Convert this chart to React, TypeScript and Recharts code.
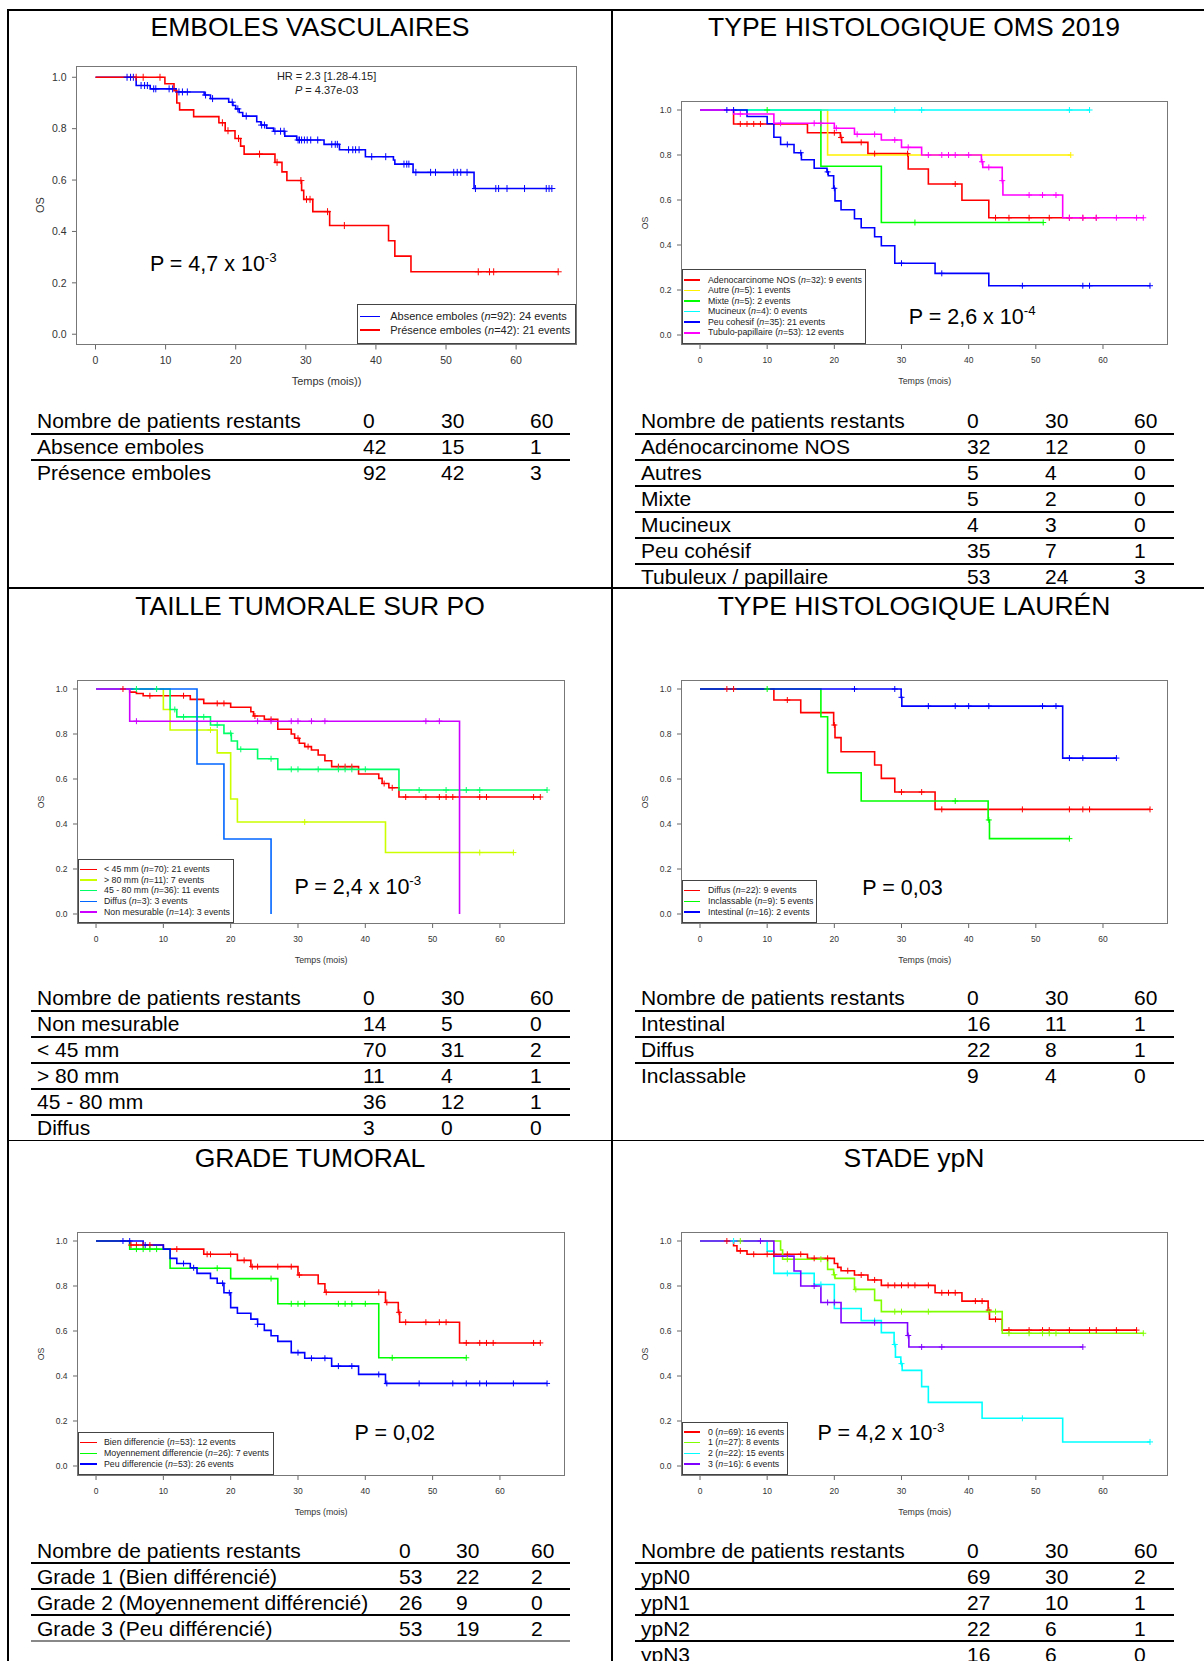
import React from 'react';
import { ComposedChart, Line, XAxis, YAxis } from 'recharts';

type Step = [number, number];
const FONT = '"Liberation Sans", Arial, Helvetica, sans-serif';

// ---------- shared ----------
const xTicks = [0, 10, 20, 30, 40, 50, 60];
const yTicks = [0, 0.2, 0.4, 0.6, 0.8, 1];
const tableHeader = 'Nombre de patients restants';
const tableTimes = ['0', '30', '60'];

// ---------- Panel 1 : EMBOLES VASCULAIRES ----------
const p1Title = 'EMBOLES VASCULAIRES';
const p1Names = ['Absence emboles', 'Présence emboles'];
const p1N = [92, 42];
const p1Events = [24, 21];
const p1Colors = ['#0000FF', '#FF0000'];
const p1AbsenceSteps: Step[] = [[0, 1], [5.8, 0.968], [7.8, 0.955], [11.5, 0.943], [15.5, 0.931], [16.4, 0.917], [19.0, 0.903], [19.6, 0.89], [20.0, 0.877], [20.5, 0.863], [21.0, 0.849], [23.0, 0.827], [23.6, 0.814], [24.4, 0.802], [25.4, 0.79], [27.0, 0.771], [28.7, 0.756], [32.6, 0.739], [34.8, 0.718], [38.5, 0.691], [42.5, 0.678], [42.7, 0.662], [45.3, 0.63], [54.0, 0.567]];
const p1AbsenceCensor = [4.5, 5.0, 5.4, 6.5, 7.0, 7.4, 8.3, 8.6, 10.5, 11.0, 11.9, 12.4, 13.1, 15.7, 16.7, 19.5, 20.3, 21.5, 23.7, 24.1, 25.6, 26.4, 26.9, 28.9, 29.1, 29.4, 29.8, 30.2, 30.7, 31.7, 33.7, 34.2, 34.5, 36.1, 36.7, 37.1, 37.6, 39.4, 41.4, 44.0, 44.4, 44.7, 45.7, 47.8, 48.5, 51.1, 51.6, 52.1, 53.0, 54.2, 57.1, 57.5, 58.7, 61.2, 64.3, 64.7, 65.1];
const p1PresenceSteps: Step[] = [[0, 1], [9.9, 0.975], [11.2, 0.948], [11.6, 0.9], [12.0, 0.873], [14.0, 0.847], [17.6, 0.823], [18.5, 0.792], [19.9, 0.762], [20.7, 0.732], [21.2, 0.701], [25.6, 0.669], [26.6, 0.632], [27.3, 0.598], [29.4, 0.56], [29.7, 0.525], [31.0, 0.477], [33.4, 0.423], [41.8, 0.364], [42.7, 0.304], [45.0, 0.243]];
const p1PresenceCensor = [5.8, 6.8, 9.2, 18.1, 18.9, 20.4, 23.4, 25.9, 29.3, 30.1, 30.6, 33.1, 35.5, 54.6, 56.2, 56.8, 66.0];
const p1Rows = ['Absence emboles', 'Présence emboles'];
const p1Vals = [[42, 15, 1], [92, 42, 3]];

// ---------- Panel 2 : TYPE HISTOLOGIQUE OMS 2019 ----------
const p2Title = 'TYPE HISTOLOGIQUE OMS 2019';
const p2Names = ['Adenocarcinome NOS', 'Autre', 'Mixte', 'Mucineux', 'Peu cohesif', 'Tubulo-papillaire'];
const p2N = [32, 5, 5, 4, 35, 53];
const p2Events = [9, 1, 2, 0, 21, 12];
const p2Colors = ['#FF0000', '#FFF200', '#00FF00', '#00FFFF', '#0000FF', '#FF00FF'];
const p2AdenoSteps: Step[] = [[0, 1], [5, 0.938], [16, 0.899], [20.9, 0.878], [21.1, 0.856], [25, 0.806], [31, 0.738], [34, 0.671], [39, 0.599], [43, 0.521]];
const p2AdenoCensor = [6, 7, 8, 9, 20, 21, 24, 26, 30.9, 38, 44, 46, 49, 52, 55, 57, 59];
const p2AutreSteps: Step[] = [[0, 1], [19, 0.8]];
const p2AutreCensor = [55.2];
const p2MixteSteps: Step[] = [[0, 1], [18, 0.75], [27, 0.5]];
const p2MixteCensor = [10, 32, 51.1];
const p2MucineuxSteps: Step[] = [[0, 1]];
const p2MucineuxCensor = [29, 33, 55, 58];
const p2PeuSteps: Step[] = [[0, 1], [7, 0.971], [10, 0.939], [11, 0.879], [12, 0.847], [14, 0.81], [15.1, 0.779], [17, 0.741], [18.9, 0.725], [19.1, 0.708], [19.9, 0.652], [20.1, 0.596], [21, 0.557], [23, 0.517], [24, 0.477], [26, 0.437], [27, 0.397], [29, 0.319], [35, 0.274], [43, 0.219]];
const p2PeuCensor = [4, 5, 13, 15, 19, 20, 30, 36, 48, 57, 58, 67];
const p2TubuloSteps: Step[] = [[0, 1], [5, 0.982], [11, 0.941], [20, 0.919], [23, 0.892], [27, 0.867], [30, 0.834], [33, 0.8], [41.9, 0.77], [42.1, 0.745], [45, 0.686], [45.1, 0.622], [54, 0.521]];
const p2TubuloCensor = [6, 12, 17, 18, 20.3, 23.4, 26, 29, 31, 34, 36, 37, 38, 40, 42, 43, 45, 49, 51, 53, 55, 57, 59, 62, 65, 66];
const p2Rows = ['Adénocarcinome NOS', 'Autres', 'Mixte', 'Mucineux', 'Peu cohésif', 'Tubuleux / papillaire'];
const p2Vals = [[32, 12, 0], [5, 4, 0], [5, 2, 0], [4, 3, 0], [35, 7, 1], [53, 24, 3]];

// ---------- Panel 3 : TAILLE TUMORALE SUR PO ----------
const p3Title = 'TAILLE TUMORALE SUR PO';
const p3Names = ['< 45 mm', '> 80 mm', '45 - 80 mm', 'Diffus', 'Non mesurable'];
const p3N = [70, 11, 36, 3, 14];
const p3Events = [21, 7, 11, 3, 3];
const p3Colors = ['#FF0000', '#CCFF00', '#00FF66', '#0066FF', '#CC00FF'];
const p3Lt45Steps: Step[] = [[0, 1], [5, 0.986], [6, 0.98], [7, 0.97], [14, 0.954], [16, 0.936], [20, 0.919], [23, 0.899], [23.4, 0.88], [25, 0.865], [27, 0.821], [29, 0.8], [29.5, 0.781], [30.2, 0.759], [31, 0.744], [32, 0.729], [33, 0.707], [34, 0.681], [35, 0.655], [39, 0.622], [42, 0.603], [42.5, 0.58], [43.5, 0.561], [45, 0.52]];
const p3Lt45Censor = [4, 8, 13, 18, 19, 23.6, 26, 30, 31.5, 36, 37, 38, 42.8, 44, 46, 49, 51, 52, 53, 57, 58, 65, 66];
const p3Gt80Steps: Step[] = [[0, 1], [10, 0.909], [11, 0.818], [18, 0.716], [20, 0.511], [21, 0.409], [43, 0.273]];
const p3Gt80Censor = [17, 31, 57, 62];
const p3MidSteps: Step[] = [[0, 1], [11, 0.909], [12, 0.876], [17, 0.84], [19, 0.803], [20.1, 0.769], [21, 0.732], [24, 0.69], [27, 0.643], [45, 0.551]];
const p3MidCensor = [6, 9, 11.7, 13, 16, 18, 20, 21.5, 26, 29, 30, 33, 36, 37, 38, 40, 48, 52, 55, 57, 67];
const p3DiffusSteps: Step[] = [[0, 1], [15, 0.667], [19, 0.333], [26, 0]];
const p3DiffusCensor: number[] = [];
const p3NonMesSteps: Step[] = [[0, 1], [5, 0.857], [54, 0]];
const p3NonMesCensor = [6, 24, 26, 29, 30, 32, 34, 49, 51];
const p3Rows = ['Non mesurable', '< 45 mm', '> 80 mm', '45 - 80 mm', 'Diffus'];
const p3Vals = [[14, 5, 0], [70, 31, 2], [11, 4, 1], [36, 12, 1], [3, 0, 0]];

// ---------- Panel 4 : TYPE HISTOLOGIQUE LAURÉN ----------
const p4Title = 'TYPE HISTOLOGIQUE LAURÉN';
const p4Names = ['Diffus', 'Inclassable', 'Intestinal'];
const p4N = [22, 9, 16];
const p4Events = [9, 5, 2];
const p4Colors = ['#FF0000', '#00FF00', '#0000FF'];
const p4DiffusSteps: Step[] = [[0, 1], [11, 0.951], [15, 0.895], [19.9, 0.84], [20.1, 0.784], [21, 0.721], [26, 0.662], [27, 0.603], [29, 0.542], [35, 0.465]];
const p4DiffusCensor = [4, 5, 13, 20, 30, 33, 36, 48, 55, 57, 58, 67];
const p4InclSteps: Step[] = [[0, 1], [18, 0.877], [19, 0.628], [24, 0.502], [42.9, 0.418], [43.1, 0.335]];
const p4InclCensor = [10, 38, 43, 55];
const p4IntestSteps: Step[] = [[0, 1], [29.95, 0.963], [30.05, 0.924], [54, 0.693]];
const p4IntestCensor = [23, 29, 30, 34, 38, 40, 43, 51, 53, 55, 57, 62];
const p4Rows = ['Intestinal', 'Diffus', 'Inclassable'];
const p4Vals = [[16, 11, 1], [22, 8, 1], [9, 4, 0]];

// ---------- Panel 5 : GRADE TUMORAL ----------
const p5Title = 'GRADE TUMORAL';
const p5Names = ['Bien differencie', 'Moyennement differencie', 'Peu differencie'];
const p5N = [53, 26, 53];
const p5Events = [12, 7, 26];
const p5Colors = ['#FF0000', '#00FF00', '#0000FF'];
const p5BienSteps: Step[] = [[0, 1], [5, 0.982], [10, 0.964], [16, 0.941], [21, 0.914], [23, 0.886], [30, 0.849], [33, 0.81], [34, 0.772], [43, 0.727], [44.9, 0.683], [45.1, 0.639], [54, 0.547]];
const p5BienCensor = [5.2, 6, 7, 8, 12, 16.5, 17, 20, 22, 23.2, 24, 27, 29, 30.2, 34.2, 42, 43.2, 45, 46, 49, 51, 52, 55, 57, 58, 59, 65, 66];
const p5MoyenSteps: Step[] = [[0, 1], [5, 0.964], [11, 0.879], [20, 0.833], [27, 0.721], [42, 0.481]];
const p5MoyenCensor = [6, 7, 8, 9, 18, 26, 29, 30, 31, 36, 37, 38, 40, 44, 55];
const p5PeuSteps: Step[] = [[0, 1], [7, 0.982], [10, 0.964], [11, 0.923], [12, 0.9], [14, 0.881], [15, 0.856], [17, 0.834], [18, 0.812], [19, 0.77], [20, 0.704], [21, 0.679], [23, 0.653], [24, 0.63], [25, 0.603], [26, 0.579], [27, 0.554], [29, 0.504], [31, 0.479], [35, 0.444], [39, 0.407], [43, 0.367]];
const p5PeuCensor = [4, 5, 7.3, 13, 14.5, 18.8, 19.8, 24, 30, 32, 34, 36, 38, 42, 43.2, 48, 53, 55, 57, 58, 62, 67];
const p5Rows = ['Grade 1 (Bien différencié)', 'Grade 2 (Moyennement différencié)', 'Grade 3 (Peu différencié)'];
const p5Vals = [[53, 22, 2], [26, 9, 0], [53, 19, 2]];

// ---------- Panel 6 : STADE ypN ----------
const p6Title = 'STADE ypN';
const p6Names = ['0', '1', '2', '3'];
const p6N = [69, 27, 22, 16];
const p6Events = [16, 8, 15, 6];
const p6Colors = ['#FF0000', '#80FF00', '#00FFFF', '#8000FF'];
const p6N0Steps: Step[] = [[0, 1], [5, 0.979], [5.5, 0.956], [7, 0.941], [16, 0.923], [20, 0.9], [20.5, 0.883], [21, 0.868], [23, 0.849], [25, 0.827], [27, 0.803], [35, 0.77], [39, 0.733], [42.9, 0.693], [43.1, 0.652], [45, 0.604]];
const p6N0Censor = [4, 6, 8, 10, 11, 13, 15, 17, 19, 22, 24, 26, 28, 29, 30, 31, 32, 34, 36, 37, 38, 41, 42, 43, 44, 46, 49, 51, 52, 55, 58, 59, 62, 65];
const p6N1Steps: Step[] = [[0, 1], [12, 0.96], [12.3, 0.919], [19, 0.874], [19.9, 0.85], [20.1, 0.834], [23, 0.785], [26, 0.736], [27, 0.686], [45, 0.59]];
const p6N1Censor = [6, 13, 18, 20, 23.2, 29, 30, 34, 43, 44, 46, 49, 51, 52, 53, 66];
const p6N2Steps: Step[] = [[0, 1], [10, 0.955], [11, 0.856], [17, 0.807], [20, 0.7], [24, 0.646], [27, 0.593], [28.9, 0.54], [29.1, 0.484], [29.9, 0.455], [30.1, 0.425], [33, 0.353], [34, 0.283], [42, 0.212], [54, 0.107]];
const p6N2Censor = [5, 13, 18, 26, 29, 30, 48, 67];
const p6N3Steps: Step[] = [[0, 1], [11, 0.933], [14, 0.867], [15, 0.8], [18, 0.727], [21, 0.637], [30.9, 0.58], [31.1, 0.529]];
const p6N3Censor = [9, 17, 19, 20, 26, 31, 33, 36, 57];
const p6Rows = ['ypN0', 'ypN1', 'ypN2', 'ypN3'];
const p6Vals = [[69, 30, 2], [27, 10, 1], [22, 6, 1], [16, 6, 0]];

// ---------- helpers ----------
type Series = { color: string; steps: Step[]; censor: number[] };
type Box = { l: number; t: number; r: number; b: number };

function survAt(steps: Step[], t: number) {
  let s = steps[0][1];
  for (const [ti, si] of steps) {
    if (ti <= t + 1e-9) s = si;
    else break;
  }
  return s;
}
function linePoints(steps: Step[], censor: number[]) {
  const pts = steps.map(([t, s]) => ({ t, s }));
  const last = steps[steps.length - 1];
  const tEnd = Math.max(last[0], ...censor);
  if (tEnd > last[0]) pts.push({ t: tEnd, s: last[1] });
  return pts;
}
function mkSeries(colors: string[], steps: Step[][], censors: number[][]): Series[] {
  return colors.map((c, i) => ({ color: c, steps: steps[i], censor: censors[i] }));
}

function T({ x, y, size, children, anchor = 'start', color = '#000', style = {} }: any) {
  const tx = anchor === 'middle' ? 'translateX(-50%)' : anchor === 'end' ? 'translateX(-100%)' : undefined;
  return (
    <div style={{ position: 'absolute', left: x, top: y - size * 0.4885, fontSize: size, lineHeight: `${size}px`, whiteSpace: 'nowrap', transform: tx, color, fontFamily: FONT, ...style }}>
      {children}
    </div>
  );
}
function HL({ x1, x2, y, w = 1.5, c = '#000' }: any) {
  return <div style={{ position: 'absolute', left: x1, top: y - w / 2, width: x2 - x1, height: w, background: c }} />;
}
function VL({ x, y1, y2, w = 1.5, c = '#000' }: any) {
  return <div style={{ position: 'absolute', left: x - w / 2, top: y1, width: w, height: y2 - y1, background: c }} />;
}

function KMPanel({ box, xMax, series, tickSize, labSize, xlabel, mark }: { box: Box; xMax: number; series: Series[]; tickSize: number; labSize: number; xlabel: string; mark: number }) {
  const ML = 60, MT = 10, MR = 10, MB = 40;
  const w = box.r - box.l, h = box.b - box.t;
  const pad = xMax * 0.04;
  const tickStyle = { fontSize: tickSize, fill: '#333', fontFamily: FONT };
  return (
    <>
      <div style={{ position: 'absolute', left: box.l - ML, top: box.t - MT }}>
        <ComposedChart width={w + ML + MR} height={h + MT + MB} margin={{ top: MT, right: MR, bottom: 0, left: 0 }}>
          <XAxis type="number" dataKey="t" domain={[-pad, xMax + pad]} ticks={xTicks} interval={0} allowDataOverflow axisLine={false} tickLine={{ stroke: '#666' }} tickSize={5} tickMargin={16 - 5 - 0.352 * tickSize} height={MB} tick={tickStyle} />
          <YAxis type="number" dataKey="s" domain={[-0.04, 1.04]} ticks={yTicks} interval={0} allowDataOverflow axisLine={false} tickLine={{ stroke: '#666' }} tickSize={5} tickMargin={5.5} width={ML} tick={tickStyle} tickFormatter={(v: number) => v.toFixed(1)} />
          {series.flatMap((s, i) => [
            <Line key={'l' + i} data={linePoints(s.steps, s.censor)} dataKey="s" type="stepAfter" stroke={s.color} strokeWidth={1.6} dot={false} activeDot={false} isAnimationActive={false} />,
            <Line key={'c' + i} data={s.censor.map((t) => ({ t, s: survAt(s.steps, t) }))} dataKey="s" stroke="none" activeDot={false} isAnimationActive={false}
              dot={(p: any) => (
                <path key={`m${i}-${p.index}`} d={`M${p.cx - mark},${p.cy}h${2 * mark}M${p.cx},${p.cy - mark}v${2 * mark}`} stroke={s.color} strokeWidth={1} fill="none" />
              )} />,
          ])}
        </ComposedChart>
      </div>
      <div style={{ position: 'absolute', left: box.l - 0.5, top: box.t - 0.5, width: w + 1, height: h + 1, border: '1px solid #777', boxSizing: 'border-box' }} />
      <T x={(box.l + box.r) / 2} y={box.b + 37.5} size={labSize} anchor="middle" color="#333">{xlabel}</T>
      <div style={{ position: 'absolute', left: box.l - 37, top: (box.t + box.b) / 2, transform: 'translate(-50%,-50%) rotate(-90deg)', fontSize: labSize, lineHeight: `${labSize}px`, color: '#333', fontFamily: FONT }}>OS</div>
    </>
  );
}

function KMLegend({ l, t, r, b, lx1, lx2, tx, y0, pitch, size, names, ns, evs, colors }: any) {
  return (
    <>
      <div style={{ position: 'absolute', left: l, top: t, width: r - l, height: b - t, background: '#fff', border: '1px solid #444', boxSizing: 'border-box' }} />
      {names.map((nm: string, i: number) => {
        const y = y0 + i * pitch;
        return (
          <React.Fragment key={i}>
            <HL x1={lx1} x2={lx2} y={y} w={1.6} c={colors[i]} />
            <T x={tx} y={y} size={size} color="#222">{nm} (<i>n</i>={ns[i]}): {evs[i]} events</T>
          </React.Fragment>
        );
      })}
    </>
  );
}

function PText({ x, baseline, size = 21.5, main, sup }: any) {
  return (
    <div style={{ position: 'absolute', left: x, top: baseline - size * 0.8465, fontSize: size, lineHeight: `${size}px`, whiteSpace: 'nowrap', fontFamily: FONT, color: '#000' }}>
      {main}
      {sup ? <span style={{ fontSize: size * 0.62, position: 'relative', top: -size * 0.4 }}>{sup}</span> : null}
    </div>
  );
}

function Table({ x0, cols, lx1, lx2, yH, rows, vals, lastLine }: any) {
  const F = 21, P = 26;
  return (
    <>
      <T x={x0} y={yH} size={F}>{tableHeader}</T>
      {tableTimes.map((tm, j) => <T key={'h' + j} x={cols[j]} y={yH} size={F}>{tm}</T>)}
      <HL x1={lx1} x2={lx2} y={yH + 13} w={2} />
      {rows.map((r: string, i: number) => {
        const y = yH + P * (i + 1);
        const isLast = i === rows.length - 1;
        return (
          <React.Fragment key={i}>
            <T x={x0} y={y} size={F}>{r}</T>
            {vals[i].map((v: number, j: number) => <T key={j} x={cols[j]} y={y} size={F}>{v}</T>)}
            {(!isLast || lastLine) && <HL x1={lx1} x2={lx2} y={y + 13} w={2} c={isLast ? lastLine : '#000'} />}
          </React.Fragment>
        );
      })}
    </>
  );
}

// ---------- layout ----------
const DX = 604;
const boxP1: Box = { l: 76.7, t: 66.5, r: 576.4, b: 344 };
const boxP2: Box = { l: 681.7, t: 101, r: 1167.7, b: 344 };
const boxP3: Box = { l: 77.6, t: 680, r: 564.7, b: 923 };
const boxP4: Box = { l: 681.7, t: 680, r: 1167.7, b: 923 };
const boxP5: Box = { l: 77.6, t: 1232, r: 564.7, b: 1475 };
const boxP6: Box = { l: 681.7, t: 1232, r: 1167.7, b: 1475 };
const colsL = [363, 441, 530];
const colsR = colsL.map((c) => c + DX);
const colsL5 = [399, 456, 531];

export default function App() {
  const s1 = mkSeries(p1Colors, [p1AbsenceSteps, p1PresenceSteps], [p1AbsenceCensor, p1PresenceCensor]);
  const s2 = mkSeries(p2Colors, [p2AdenoSteps, p2AutreSteps, p2MixteSteps, p2MucineuxSteps, p2PeuSteps, p2TubuloSteps], [p2AdenoCensor, p2AutreCensor, p2MixteCensor, p2MucineuxCensor, p2PeuCensor, p2TubuloCensor]);
  const s3 = mkSeries(p3Colors, [p3Lt45Steps, p3Gt80Steps, p3MidSteps, p3DiffusSteps, p3NonMesSteps], [p3Lt45Censor, p3Gt80Censor, p3MidCensor, p3DiffusCensor, p3NonMesCensor]);
  const s4 = mkSeries(p4Colors, [p4DiffusSteps, p4InclSteps, p4IntestSteps], [p4DiffusCensor, p4InclCensor, p4IntestCensor]);
  const s5 = mkSeries(p5Colors, [p5BienSteps, p5MoyenSteps, p5PeuSteps], [p5BienCensor, p5MoyenCensor, p5PeuCensor]);
  const s6 = mkSeries(p6Colors, [p6N0Steps, p6N1Steps, p6N2Steps, p6N3Steps], [p6N0Censor, p6N1Censor, p6N2Censor, p6N3Censor]);
  const TS = 26.5;
  return (
    <div style={{ position: 'absolute', left: 0, top: 0, width: 1204, height: 1661, background: '#fff', overflow: 'hidden', fontFamily: FONT }}>
      {/* grid */}
      <HL x1={7.25} x2={1204} y={10} />
      <VL x={8} y1={10} y2={1661} />
      <VL x={612} y1={10} y2={1661} />
      <HL x1={8} x2={1204} y={588} />
      <HL x1={8} x2={1204} y={1140.5} />

      {/* titles */}
      <T x={310} y={26.5} size={TS} anchor="middle">{p1Title}</T>
      <T x={310 + DX} y={26.5} size={TS} anchor="middle">{p2Title}</T>
      <T x={310} y={605.7} size={TS} anchor="middle">{p3Title}</T>
      <T x={310 + DX} y={605.7} size={TS} anchor="middle">{p4Title}</T>
      <T x={310} y={1158} size={TS} anchor="middle">{p5Title}</T>
      <T x={310 + DX} y={1158} size={TS} anchor="middle">{p6Title}</T>

      {/* Panel 1 */}
      <KMPanel box={boxP1} xMax={66} series={s1} tickSize={10.5} labSize={11} xlabel="Temps (mois))" mark={3.5} />
      <T x={326.6} y={76} size={11} anchor="middle" color="#222">HR = 2.3 [1.28-4.15]</T>
      <T x={326.6} y={90} size={11} anchor="middle" color="#222"><i>P</i> = 4.37e-03</T>
      <PText x={149.9} baseline={272} main="P = 4,7 x 10" sup="-3" />
      <KMLegend l={357} t={304.3} r={576.4} b={344.3} lx1={359.9} lx2={380.2} tx={390.2} y0={316.7} pitch={13.3} size={11} names={p1Names} ns={p1N} evs={p1Events} colors={p1Colors} />
      <Table x0={37} cols={colsL} lx1={31} lx2={570} yH={420.5} rows={p1Rows} vals={p1Vals} />

      {/* Panel 2 */}
      <KMPanel box={boxP2} xMax={67} series={s2} tickSize={8.5} labSize={8.8} xlabel="Temps (mois)" mark={3} />
      <PText x={908.8} baseline={325} main="P = 2,6 x 10" sup="-4" />
      <KMLegend l={681.7} t={269.3} r={866.4} b={344} lx1={684.3} lx2={700.5} tx={708} y0={280} pitch={10.55} size={8.8} names={p2Names} ns={p2N} evs={p2Events} colors={p2Colors} />
      <Table x0={37 + DX} cols={colsR} lx1={31 + DX} lx2={570 + DX} yH={420.5} rows={p2Rows} vals={p2Vals} />

      {/* Panel 3 */}
      <KMPanel box={boxP3} xMax={67} series={s3} tickSize={8.5} labSize={8.8} xlabel="Temps (mois)" mark={3} />
      <PText x={294.4} baseline={895} main="P = 2,4 x 10" sup="-3" />
      <KMLegend l={77.6} t={858.7} r={234.3} b={923} lx1={80.3} lx2={96.6} tx={104} y0={869.3} pitch={10.67} size={8.8} names={p3Names} ns={p3N} evs={p3Events} colors={p3Colors} />
      <Table x0={37} cols={colsL} lx1={31} lx2={570} yH={997.5} rows={p3Rows} vals={p3Vals} />

      {/* Panel 4 */}
      <KMPanel box={boxP4} xMax={67} series={s4} tickSize={8.5} labSize={8.8} xlabel="Temps (mois)" mark={3} />
      <PText x={862.3} baseline={895.7} main="P = 0,03" />
      <KMLegend l={681.7} t={880} r={817.5} b={923} lx1={684.3} lx2={700.5} tx={708} y0={890.7} pitch={10.65} size={8.8} names={p4Names} ns={p4N} evs={p4Events} colors={p4Colors} />
      <Table x0={37 + DX} cols={colsR} lx1={31 + DX} lx2={570 + DX} yH={997.5} rows={p4Rows} vals={p4Vals} />

      {/* Panel 5 */}
      <KMPanel box={boxP5} xMax={67} series={s5} tickSize={8.5} labSize={8.8} xlabel="Temps (mois)" mark={3} />
      <PText x={354.6} baseline={1441} main="P = 0,02" />
      <KMLegend l={77.6} t={1432.3} r={273.6} b={1475} lx1={80.3} lx2={96.6} tx={104} y0={1442.7} pitch={10.65} size={8.8} names={p5Names} ns={p5N} evs={p5Events} colors={p5Colors} />
      <Table x0={37} cols={colsL5} lx1={31} lx2={570} yH={1550} rows={p5Rows} vals={p5Vals} lastLine="#888" />

      {/* Panel 6 */}
      <KMPanel box={boxP6} xMax={67} series={s6} tickSize={8.5} labSize={8.8} xlabel="Temps (mois)" mark={3} />
      <PText x={817.5} baseline={1441.5} main="P = 4,2 x 10" sup="-3" />
      <KMLegend l={681.7} t={1421.7} r={788.3} b={1475} lx1={684.3} lx2={700.5} tx={708} y0={1432} pitch={10.67} size={8.8} names={p6Names} ns={p6N} evs={p6Events} colors={p6Colors} />
      <Table x0={37 + DX} cols={colsR} lx1={31 + DX} lx2={570 + DX} yH={1550} rows={p6Rows} vals={p6Vals} />
    </div>
  );
}
